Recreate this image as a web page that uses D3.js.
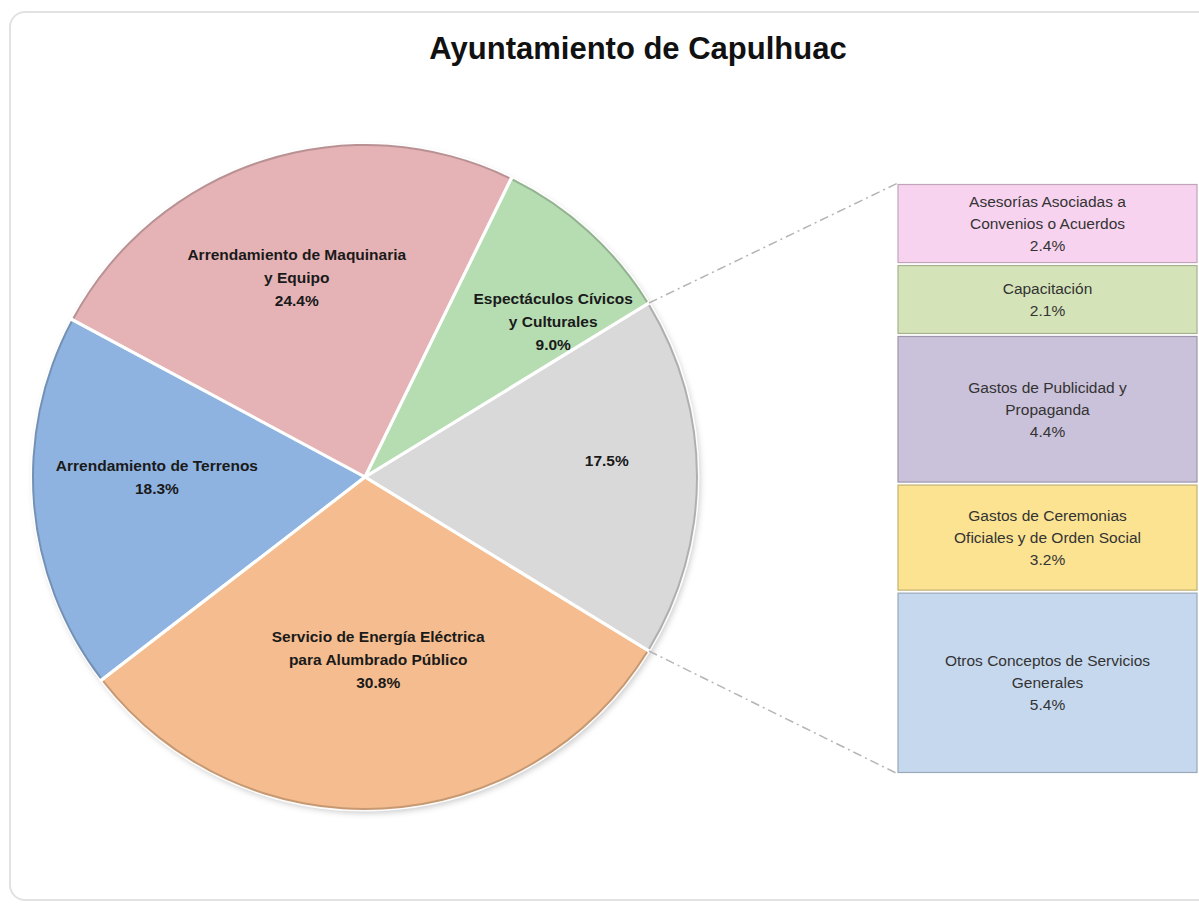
<!DOCTYPE html>
<meta charset="utf-8">
<script src="https://d3js.org/d3.v7.min.js"></script>
<style>
  body { margin: 0; background: #fff; }
  text { font-family: "Liberation Sans", Arial, sans-serif; }
</style>
<svg id="chart" width="1199" height="908"></svg>
<script>
    // Pie slices, clockwise, starting with the grouped slice shown in the bar
    var pieNames = ["", "Servicio de Energía Eléctrica|para Alumbrado Público", "Arrendamiento de Terrenos",
        "Arrendamiento de Maquinaria|y Equipo", "Espectáculos Cívicos|y Culturales"];
    var pieValues = [17.5, 30.8, 18.3, 24.4, 9.0];
    var pieColors = ["#d9d9d9", "#f5bd8f", "#8eb3e0", "#e5b3b6", "#b6ddb2"];

    // Breakdown of the grouped slice, top to bottom
    var barNames = ["Asesorías Asociadas a|Convenios o Acuerdos", "Capacitación", "Gastos de Publicidad y|Propaganda",
        "Gastos de Ceremonias|Oficiales y de Orden Social", "Otros Conceptos de Servicios|Generales"];
    var barValues = [2.4, 2.1, 4.4, 3.2, 5.4];
    var barColors = ["#f8d3ef", "#d5e3b8", "#cac1da", "#fbe392", "#c6d8ee"];

    var title = "Ayuntamiento de Capulhuac";

    var svg = d3.select("#chart"),
        width = +svg.attr("width"),
        height = +svg.attr("height");

    var fmt = function(v) { return d3.format(".1f")(v) + "%"; };

    // frame
    svg.append("rect")
        .attr("x", 10).attr("y", 12)
        .attr("width", 1210).attr("height", 888)
        .attr("rx", 15)
        .attr("fill", "#fff")
        .attr("stroke", "#e2e2e2")
        .attr("stroke-width", 2);

    svg.append("text")
        .attr("x", 638).attr("y", 59)
        .attr("text-anchor", "middle")
        .style("font-size", "31px")
        .style("font-weight", "bold")
        .attr("fill", "#111")
        .text(title);

    var defs = svg.append("defs");
    var shadow = defs.append("filter").attr("id", "shadow")
        .attr("x", "-10%").attr("y", "-10%").attr("width", "120%").attr("height", "120%");
    shadow.append("feDropShadow")
        .attr("dx", 2).attr("dy", 3).attr("stdDeviation", 3)
        .attr("flood-color", "#000").attr("flood-opacity", 0.22);

    // Pie
    var cx = 365, cy = 477, R = 333;
    var total = d3.sum(pieValues);
    var a0 = Math.PI / 2 - (pieValues[0] / total) * Math.PI; // grouped slice centred on the right

    var pie = d3.pie().sort(null).value(function(d) { return d; })
        .startAngle(a0).endAngle(a0 + 2 * Math.PI);
    var arcs = pie(pieValues);

    var arc = d3.arc().innerRadius(0).outerRadius(R);
    var rim = d3.arc().innerRadius(R - 2).outerRadius(R).padAngle(0.008);

    function polar(a, r) {
        return [cx + r * Math.sin(a), cy - r * Math.cos(a)];
    }

    var g = svg.append("g").attr("transform", "translate(" + cx + "," + cy + ")");
    g.append("g").attr("filter", "url(#shadow)")
        .selectAll("path")
        .data(arcs)
        .enter().append("path")
        .attr("d", arc)
        .attr("fill", function(d, i) { return pieColors[i]; });

    // white separators between slices
    g.append("g").selectAll("path")
        .data(arcs)
        .enter().append("path")
        .attr("d", arc)
        .attr("fill", "none")
        .attr("stroke", "#fff")
        .attr("stroke-width", 3)
        .attr("stroke-linejoin", "round")
        .attr("stroke-opacity", 0.9);

    // darker outer rim of each slice
    g.append("g").selectAll("path")
        .data(arcs)
        .enter().append("path")
        .attr("d", rim)
        .attr("fill", function(d, i) { return d3.color(pieColors[i]).darker(0.6); });

    // lines to the bar
    var barX0 = 898, barX1 = 1197, barTop = 183, barBottom = 774;
    var pStart = polar(arcs[0].startAngle, R),
        pEnd = polar(arcs[0].endAngle, R);
    svg.append("g").selectAll("line")
        .data([[pStart, [barX0, barTop]], [pEnd, [barX0, barBottom]]])
        .enter().append("line")
        .attr("x1", function(d) { return d[0][0]; })
        .attr("y1", function(d) { return d[0][1]; })
        .attr("x2", function(d) { return d[1][0]; })
        .attr("y2", function(d) { return d[1][1]; })
        .attr("stroke", "#b5b5b5")
        .attr("stroke-width", 1.5)
        .attr("stroke-dasharray", "9,4,2,4");

    // multi-line centred text
    function multiText(sel, lines, x, y, lh) {
        var t = sel.append("text")
            .attr("text-anchor", "middle")
            .attr("x", x).attr("y", y);
        var off = -(lines.length - 1) / 2 * lh;
        lines.forEach(function(l, i) {
            t.append("tspan")
                .attr("x", x)
                .attr("y", y + off + i * lh)
                .attr("dy", "0.35em")
                .text(l);
        });
        return t;
    }

    // pie labels: along the slice mid-angle, nudged where Excel put them
    var labelR = 0.63 * R;
    var labelNudge = [[32, -16], [2, -27], [1, -17], [-4, 0], [47, 0]];
    var pieLabels = svg.append("g")
        .style("font-size", "15.5px")
        .style("font-weight", "bold")
        .attr("fill", "#1a1a1a");
    arcs.forEach(function(d, i) {
        var mid = (d.startAngle + d.endAngle) / 2;
        var p = polar(mid, labelR);
        var lines = pieNames[i] ? pieNames[i].split("|") : [];
        lines.push(fmt(pieValues[i]));
        multiText(pieLabels, lines, p[0] + labelNudge[i][0], p[1] + labelNudge[i][1], 23);
    });

    // Bar of the grouped slice
    var y = d3.scaleLinear()
        .domain([0, d3.sum(barValues)])
        .range([barTop, barBottom]);
    var cum = [0].concat(Array.from(d3.cumsum(barValues)));

    var bar = svg.append("g");
    bar.selectAll("rect")
        .data(barValues)
        .enter().append("rect")
        .attr("x", barX0)
        .attr("y", function(d, i) { return y(cum[i]) + 1.5; })
        .attr("width", barX1 - barX0)
        .attr("height", function(d, i) { return y(cum[i + 1]) - y(cum[i]) - 3; })
        .attr("fill", function(d, i) { return barColors[i]; })
        .attr("stroke", function(d, i) { return d3.color(barColors[i]).darker(0.7); })
        .attr("stroke-width", 1.2);

    var barLabels = svg.append("g")
        .style("font-size", "15.5px")
        .attr("fill", "#333");
    barValues.forEach(function(v, i) {
        var lines = barNames[i].split("|");
        lines.push(fmt(v));
        multiText(barLabels, lines, (barX0 + barX1) / 2, (y(cum[i]) + y(cum[i + 1])) / 2, 22);
    });
</script>
